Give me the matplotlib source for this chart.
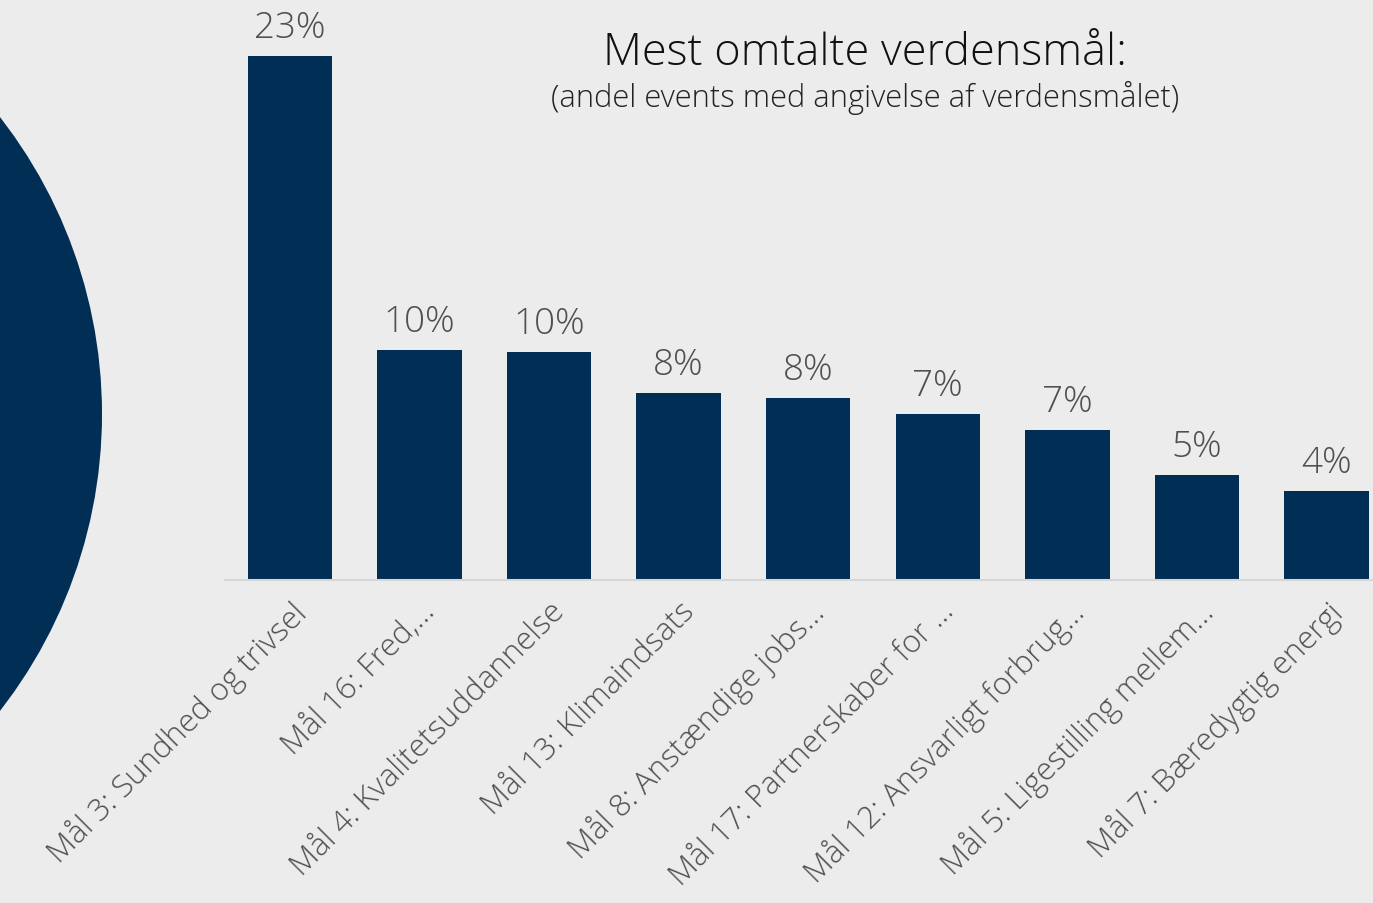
import matplotlib.pyplot as plt
from matplotlib.patches import Circle

# --- data ---
categories = [
    "Mål 3: Sundhed og trivsel",
    "Mål 16: Fred,...",
    "Mål 4: Kvalitetsuddannelse",
    "Mål 13: Klimaindsats",
    "Mål 8: Anstændige jobs...",
    "Mål 17: Partnerskaber for ...",
    "Mål 12: Ansvarligt forbrug...",
    "Mål 5: Ligestilling mellem...",
    "Mål 7: Bæredygtig energi",
]
shares = [23.0, 10.1, 10.0, 8.2, 8.0, 7.3, 6.6, 4.6, 3.9]

title = "Mest omtalte verdensmål:"
subtitle = "(andel events med angivelse af verdensmålet)"

navy = "#002e55"
bg = "#ececec"
grey_text = "#505050"

plt.rcParams['font.family'] = ['Open Sans', 'DejaVu Sans']

W, H = 1373, 904
fig = plt.figure(figsize=(W / 100, H / 100), dpi=100, facecolor=bg)

# background layer in pixel coordinates (for the big circle)
bg_ax = fig.add_axes([0, 0, 1, 1], zorder=0)
bg_ax.set_xlim(0, W)
bg_ax.set_ylim(H, 0)
bg_ax.axis('off')
bg_ax.add_patch(Circle((-381, 415), 483, color=navy, lw=0))

# main bar chart
ax = fig.add_axes([225 / W, 1 - 581 / H, 9 * 129.6 / W, 524 / H], zorder=1)
ax.set_facecolor('none')
x = range(len(categories))
bars = ax.bar(x, shares, width=0.65, color=navy)
ax.set_xlim(-0.5, len(categories) - 0.5)
ax.set_ylim(0, 23)

for b, v in zip(bars, shares):
    ax.annotate(f"{v:.0f}%", (b.get_x() + b.get_width() / 2, v),
                xytext=(0, 7), textcoords='offset points',
                ha='center', va='bottom', fontsize=26.5, color=grey_text,
                fontweight='light', annotation_clip=False)

ax.set_xticks(list(x))
ax.set_xticklabels(categories, rotation=45, ha='right', rotation_mode='anchor',
                   fontsize=22.5, color=grey_text, fontweight='light')
ax.tick_params(axis='x', length=0, pad=11)
ax.set_yticks([])
for s in ['top', 'right', 'left']:
    ax.spines[s].set_visible(False)
ax.spines['bottom'].set_color('#d6d6d6')
ax.spines['bottom'].set_linewidth(1.5)

fig.text(865 / W, 1 - 54 / H, title, ha='center', va='center',
         fontsize=32.5, color='#111111', fontweight='light')
fig.text(865 / W, 1 - 98 / H, subtitle, ha='center', va='center',
         fontsize=22.2, color='#222222', fontweight='light')

fig.savefig('out.png', dpi=100, facecolor=bg)
